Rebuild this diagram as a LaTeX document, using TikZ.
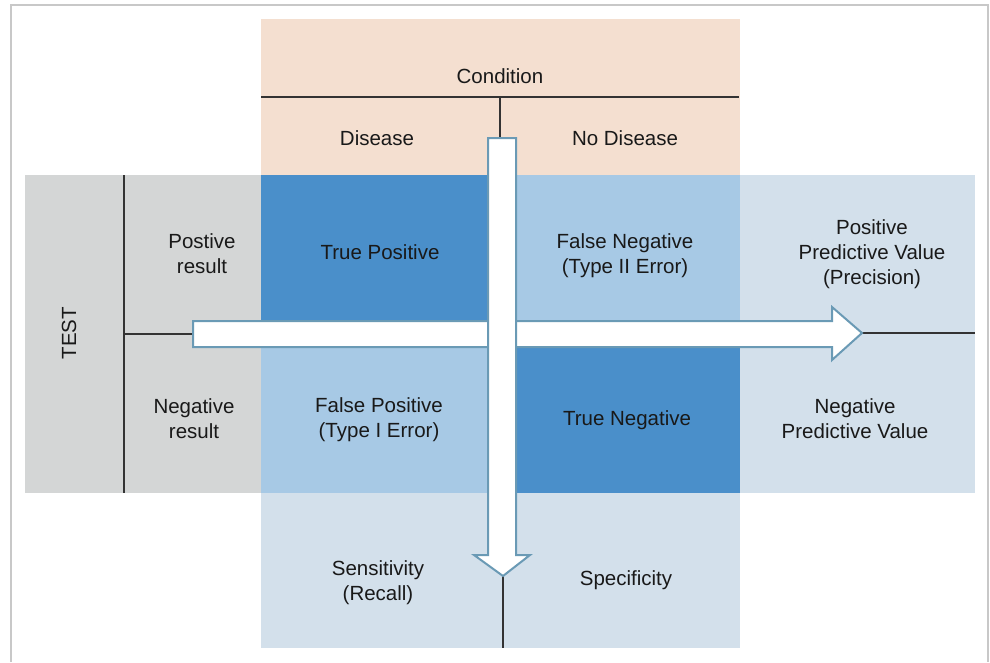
\documentclass[tikz,border=0pt]{standalone}
\usepackage{fontspec}
\setmainfont{Liberation Sans}
\definecolor{peach}{HTML}{F4DFD0}
\definecolor{testGrey}{HTML}{D4D6D6}
\definecolor{darkCell}{HTML}{4A8FCA}
\definecolor{lightCell}{HTML}{A7C9E5}
\definecolor{paleCell}{HTML}{D3E0EB}
\definecolor{arrowEdge}{HTML}{6A9AB5}
\definecolor{frameGrey}{HTML}{C8C8C8}
\newcommand{\cellTextSty}{\fontsize{20.5}{25}\selectfont}
\tikzset{
  lbl/.style={align=center, inner sep=0pt, font=\cellTextSty, text=black!90},
  divider/.style={draw=black!80, line width=1.3pt},
  blockArrow/.style={draw=arrowEdge, fill=white, line width=2pt, line join=miter},
}

\begin{document}
\begin{tikzpicture}[x=1pt,y=-1pt]
    \useasboundingbox (0,0) rectangle (990,662);

    % frame
    \draw[frameGrey, line width=2.2pt] (11,662) -- (11,5) -- (988,5) -- (988,662);

    % condition header
    \fill[peach] (261,19) rectangle (740,175);
    % test column
    \fill[testGrey] (25,175) rectangle (261,493);
    % matrix cells
    \fill[darkCell] (261,175) rectangle (501,334);
    \fill[lightCell] (501,175) rectangle (740,334);
    \fill[lightCell] (261,334) rectangle (501,493);
    \fill[darkCell] (501,334) rectangle (740,493);
    % predictive values
    \fill[paleCell] (740,175) rectangle (975,493);
    % sensitivity / specificity
    \fill[paleCell] (261,493) rectangle (740,648);

    % line ends
    \coordinate (condL) at (261,97);
    \coordinate (condR) at (739,97);
    \coordinate (condMid) at (500,97);
    \coordinate (condLow) at (500,140);
    \coordinate (testTop) at (124,175);
    \coordinate (testBot) at (124,493);
    \coordinate (testMid) at (124,334);
    \coordinate (hTail) at (195,334);
    \coordinate (hTip) at (862,333);
    \coordinate (predEnd) at (975,333);
    \coordinate (vTip) at (503,576);
    \coordinate (bottomEnd) at (503,648);

    % dividers
    \draw[divider] (condL) -- (condR);
    \draw[divider] (condMid) -- (condLow);
    \draw[divider] (testTop) -- (testBot);
    \draw[divider] (testMid) -- (hTail);
    \draw[divider] (hTip) -- (predEnd);
    \draw[divider] (vTip) -- (bottomEnd);

    % horizontal arrow
    \draw[blockArrow] (193,321) -- (832,321) -- (832,307) -- (hTip) -- (832,360) -- (832,347) -- (193,347) -- cycle;
    % vertical arrow
    \draw[blockArrow] (488,138) -- (516,138) -- (516,555) -- (530,555) -- (vTip) -- (474,555) -- (488,555) -- cycle;

    % header labels
    \node[lbl] (condition) at (500,76) {Condition};
    \node[lbl] (disease) at (377,138) {Disease};
    \node[lbl] (noDisease) at (625,138) {No Disease};

    % test labels
    \node[lbl, rotate=90] (test) at (69,333) {TEST};
    \node[lbl] (posResult) at (202,254) {Postive\\result};
    \node[lbl] (negResult) at (194,419) {Negative\\result};

    % cell labels
    \node[lbl] (truePos) at (380,252) {True Positive};
    \node[lbl] (falseNeg) at (625,256) {False Negative\\(Type II Error)};
    \node[lbl] (falsePos) at (379,420) {False Positive\\(Type I Error)};
    \node[lbl] (trueNeg) at (627,420) {True Negative};

    % predictive values
    \node[lbl] (ppv) at (872,254) {Positive\\Predictive Value\\(Precision)};
    \node[lbl] (npv) at (855,419) {Negative\\Predictive Value};

    % sensitivity / specificity
    \node[lbl] (sens) at (378,583) {Sensitivity\\(Recall)};
    \node[lbl] (spec) at (626,580) {Specificity};

\end{tikzpicture}
\end{document}
